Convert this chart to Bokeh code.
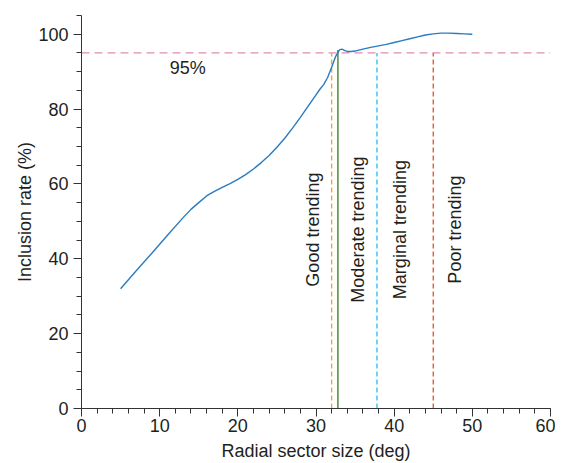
import math
from bokeh.plotting import figure
from bokeh.models import Range1d, FixedTicker, Label
from bokeh.embed import file_html
from bokeh.resources import INLINE

# Data
sector_size = [5, 7, 9, 11, 13, 14, 15, 16, 17, 18, 19, 20, 21, 22, 23, 24, 25, 26, 27, 28, 29, 30,
               30.5, 31, 31.5, 32, 32.5, 33, 33.3, 33.7, 34, 34.5, 35, 36, 37, 38, 39, 40, 41, 42,
               43, 44, 45, 46, 47, 48, 49, 50]
inclusion_rate = [32, 36.8, 41.5, 46.3, 51, 53.2, 55, 56.8, 58, 59.1, 60.1, 61.2, 62.5, 64, 65.7, 67.6,
                  69.8, 72.2, 74.9, 77.8, 80.8, 83.8, 85.3, 86.6, 88.5, 91.2, 94, 95.8, 96, 95.6, 95.4,
                  95.4, 95.5, 96, 96.5, 96.9, 97.3, 97.8, 98.3, 98.8, 99.3, 99.8, 100.1, 100.3, 100.3,
                  100.2, 100.1, 100]
threshold_level = 95
threshold_x = [32.0, 37.8, 45.0]
threshold_colors = ["#f2a33a", "#2ec6f2", "#e2603c"]
crossing_x = 32.8
crossing_y = 95.8
zone_labels = ["Good trending", "Moderate trending", "Marginal trending", "Poor trending"]
zone_label_x = [29.6, 35.4, 40.8, 47.8]
zone_label_y = 47.8
x_ticks = [0, 10, 20, 30, 40, 50, 60]
y_ticks = [0, 20, 40, 60, 80, 100]

FONT = "Liberation Sans"
TXT = "#231f20"

p = figure(width=555, height=463, output_backend="svg", toolbar_location=None,
           x_range=Range1d(0, 60), y_range=Range1d(0, 105),
           min_border_left=81, min_border_right=5, min_border_top=15, min_border_bottom=55)
p.outline_line_color = None
p.xgrid.grid_line_color = None
p.ygrid.grid_line_color = None
p.background_fill_color = "white"

# horizontal 95% line
p.segment(x0=[0], y0=[threshold_level], x1=[60], y1=[threshold_level],
          line_color="#e08cb6", line_width=1.3, line_dash="8 5")

# vertical dashed thresholds
p.segment(x0=threshold_x, y0=[0] * len(threshold_x), x1=threshold_x,
          y1=[threshold_level] * len(threshold_x),
          line_color=threshold_colors, line_width=1.4, line_dash="5 3")
# green solid crossing line
p.segment(x0=[crossing_x], y0=[0], x1=[crossing_x], y1=[crossing_y],
          line_color="#6b9d5b", line_width=1.8)

# curve
p.line(sector_size, inclusion_rate, line_color="#2a7bc0", line_width=1.4)

# labels
p.text(x=zone_label_x, y=[zone_label_y] * 4, text=zone_labels, angle=math.pi / 2,
       text_align="center", text_baseline="middle", text_font_size="18px",
       text_color=TXT, text_font={"value": FONT})
p.add_layout(Label(x=13.6, y=90.9, text="95%", text_align="center", text_baseline="middle",
                   text_font_size="18px", text_color=TXT, text_font=FONT))

for ax in (p.xaxis[0], p.yaxis[0]):
    ax.axis_line_color = "#333333"
    ax.major_tick_line_color = "#333333"
    ax.minor_tick_line_color = "#333333"
    ax.major_tick_in = 0
    ax.major_tick_out = 8
    ax.minor_tick_in = 0
    ax.minor_tick_out = 5
    ax.major_label_text_font = FONT
    ax.major_label_text_font_size = "18px"
    ax.major_label_text_color = TXT
    ax.axis_label_text_font = FONT
    ax.axis_label_text_font_size = "18px"
    ax.axis_label_text_font_style = "normal"
    ax.axis_label_text_color = TXT

p.xaxis[0].ticker = FixedTicker(ticks=x_ticks, minor_ticks=list(range(0, 61, 2)))
p.yaxis[0].ticker = FixedTicker(ticks=y_ticks, minor_ticks=list(range(0, 106, 5)))
p.xaxis[0].axis_label = "Radial sector size (deg)"
p.yaxis[0].axis_label = "Inclusion rate (%)"
p.xaxis[0].major_label_standoff = 2
p.yaxis[0].major_label_standoff = 5
p.xaxis[0].axis_label_standoff = 6
p.yaxis[0].axis_label_standoff = 0

open("out.html", "w").write(file_html(p, INLINE))
